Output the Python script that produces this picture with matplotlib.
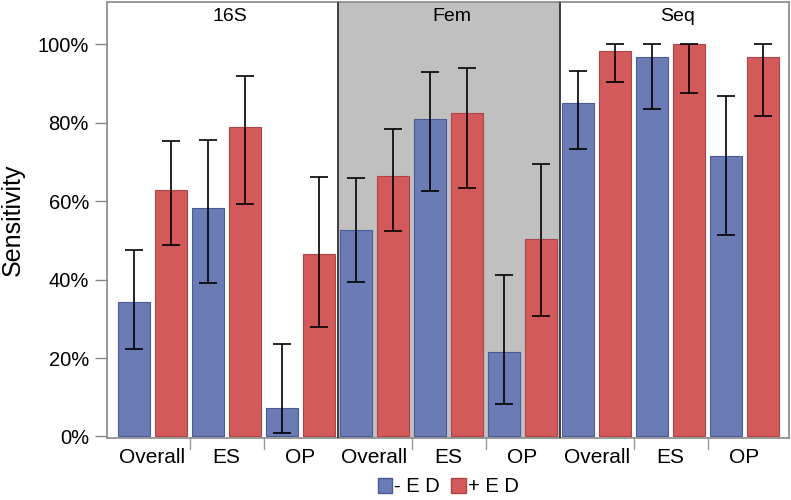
import numpy as np
import matplotlib.pyplot as plt
from matplotlib.patches import Patch

plt.rcParams['font.family'] = ['Liberation Sans', 'DejaVu Sans']

# data (sensitivity in %), order per panel: Overall, ES, OP
panels = ['16S', 'Fem', 'Seq']
categories = ['Overall', 'ES', 'OP']

no_ed = [34.2, 58.2, 7.3, 52.6, 81.0, 21.6, 85.0, 96.9, 71.6]
no_ed_lo = [22.2, 39.1, 1.0, 39.4, 62.6, 8.3, 73.3, 83.4, 51.3]
no_ed_hi = [47.5, 75.6, 23.5, 66.0, 93.0, 41.2, 93.3, 100.0, 86.8]

with_ed = [62.8, 78.9, 46.5, 66.4, 82.5, 50.3, 98.4, 100.0, 96.7]
with_ed_lo = [48.8, 59.3, 27.8, 52.3, 63.3, 30.8, 90.5, 87.7, 81.7]
with_ed_hi = [75.3, 92.0, 66.2, 78.4, 94.0, 69.6, 100.0, 100.0, 100.0]

blue = '#6b7cb5'
blue_edge = '#4a5a9c'
red = '#d35a5a'
red_edge = '#b04444'

n = len(no_ed)
xb = np.arange(n) * 2
xr = xb + 1
w = 0.865

fig = plt.figure(figsize=(7.91, 5.0), dpi=100)
ax = fig.add_axes([107 / 791, 1 - 438 / 500, 682 / 791, 436 / 500])

# shaded middle panel
ax.axvspan(5.5, 11.5, color='#c0c0c0', zorder=0, lw=0)

err_kw = dict(ecolor='black', elinewidth=1.2, capsize=6.5, capthick=1.2)
ax.bar(xb, no_ed, w, color=blue, edgecolor=blue_edge, lw=0.8, zorder=2,
       yerr=[np.subtract(no_ed, no_ed_lo), np.subtract(no_ed_hi, no_ed)], error_kw=err_kw)
ax.bar(xr, with_ed, w, color=red, edgecolor=red_edge, lw=0.8, zorder=2,
       yerr=[np.subtract(with_ed, with_ed_lo), np.subtract(with_ed_hi, with_ed)], error_kw=err_kw)

for xv in (5.5, 11.5):
    ax.axvline(xv, color='#333333', lw=1.3, zorder=3)

ax.set_xlim(-0.73, 17.7)
ax.set_ylim(-0.4, 110.8)

ax.set_yticks([0, 20, 40, 60, 80, 100])
ax.set_yticklabels(['0%', '20%', '40%', '60%', '80%', '100%'], fontsize=14.5)
ax.tick_params(axis='y', length=9, width=1, color='#888888', pad=4)

# category labels and separator ticks
ax.set_xticks(np.arange(0.5, 2 * n, 2))
ax.set_xticklabels(categories * 3, fontsize=15)
ax.tick_params(axis='x', length=0, pad=7)
seps = [1.5, 3.5, 7.5, 9.5, 13.5, 15.5]
for s in seps:
    ax.plot([s, s], [0, -0.025], transform=ax.get_xaxis_transform(), color='#999999',
            lw=1, clip_on=False)

for sp in ax.spines.values():
    sp.set_color('#888888')
    sp.set_linewidth(1.2)

for name, px in zip(panels, [2.6, 8.6, 14.7]):
    ax.text(px, 107, name, ha='center', va='center', fontsize=14)

ax.set_ylabel('Sensitivity', fontsize=18)
ax.yaxis.set_label_coords(-0.12, 0.5)

handles = [Patch(facecolor=blue, edgecolor=blue_edge), Patch(facecolor=red, edgecolor=red_edge)]
fig.legend(handles, ['- E D', '+ E D'], loc='center', bbox_to_anchor=(448 / 791, 1 - 487 / 500),
           ncol=2, frameon=False, fontsize=14.5, handlelength=0.7, handleheight=0.7,
           handletextpad=0.1, columnspacing=0.6)

fig.savefig('out.png', dpi=100)
